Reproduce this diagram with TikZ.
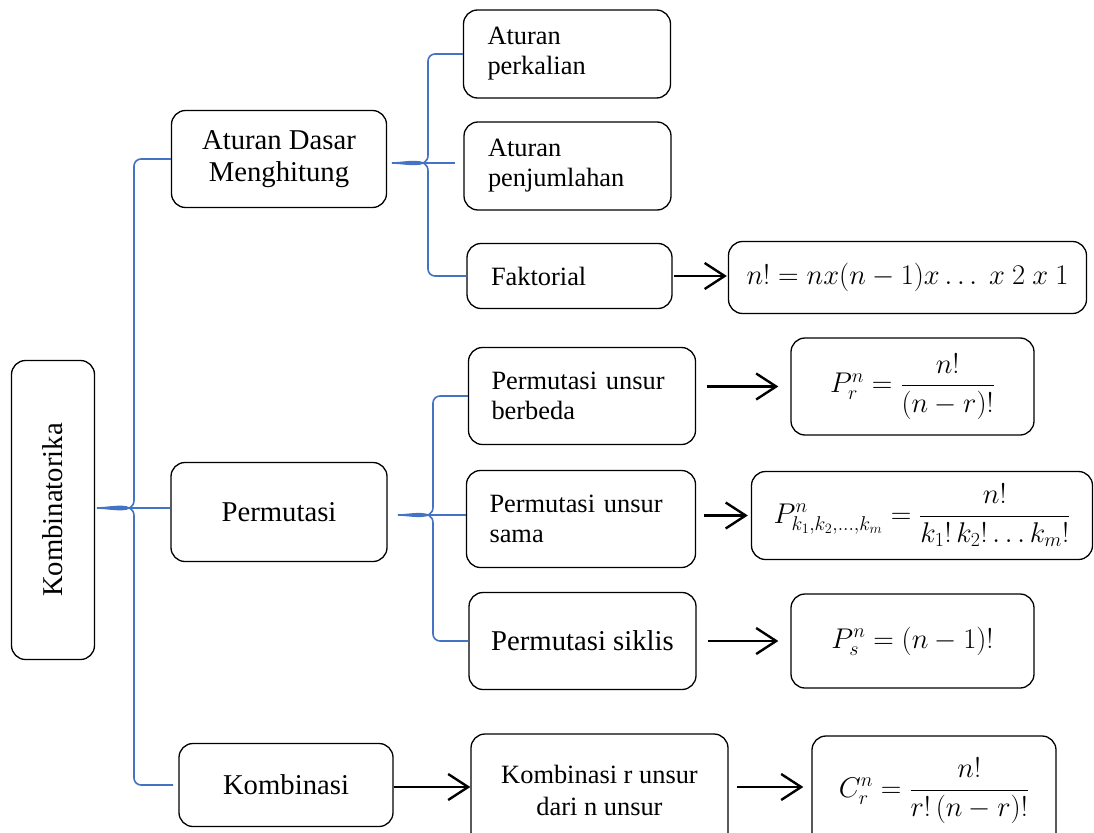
\RequirePackage{fix-cm}
\documentclass[tikz,border=0pt]{standalone}
\usepackage{amsmath}
\usepackage{fontspec}
\setmainfont{Liberation Serif}
\usepackage{tikz}
\usetikzlibrary{arrows.meta}
\usetikzlibrary{positioning}
\definecolor{braceblue}{RGB}{68,114,196}
\newcommand{\bigtext}{\fontsize{28.7}{31.7}\selectfont}
\newcommand{\smalltext}{\fontsize{26.4}{30}\selectfont}
\newcommand{\mathtext}{\fontsize{28.5}{32}\selectfont}
\tikzset{>=latex}
\tikzstyle{box} = [draw, rounded corners=14pt, line width=1.3pt, inner sep=0pt, align=center]
\tikzstyle{lbox} = [box, align=left, inner xsep=24pt, font=\smalltext]
\tikzstyle{brace} = [draw=braceblue, line width=1.6pt]
\tikzstyle{arr} = [-{Straight Barb[length=20pt,width=26pt]}, line width=2.4pt]

\begin{document}
\begin{tikzpicture}[x=1pt, y=-1pt]
\useasboundingbox (0,0) rectangle (1094,832);
% main boxes
\node [box, rotate=90, minimum width=299pt, minimum height=83pt, font=\bigtext] (kombin) at (53,510) {Kombinatorika};
\node [box, minimum width=215pt, minimum height=97pt, font=\bigtext] (dasar) at (279,159) {Aturan Dasar\\Menghitung};
\node [box, minimum width=216pt, minimum height=99pt, font=\bigtext] (perm) at (279,512) {Permutasi};
\node [box, minimum width=214pt, minimum height=83pt, font=\bigtext] (komb) at (286,785) {Kombinasi};
% aturan dasar
\node [lbox, text width=159pt, minimum height=88pt] (kali) at (567,54) {Aturan\\perkalian};
\node [lbox, text width=159pt, minimum height=88pt] (jumlah) at (567.5,166) {Aturan\\penjumlahan};
\node [lbox, text width=157pt, minimum height=65pt] (fakt) at (569.5,276) {Faktorial};
% permutasi
\node [lbox, text width=181pt, minimum height=97pt, inner xsep=23pt] (beda) at (582,396) {Permutasi unsur\\berbeda};
\node [lbox, text width=183pt, minimum height=97pt, inner xsep=23pt] (sama) at (581,519) {Permutasi unsur\\sama};
\node [box, minimum width=227pt, minimum height=97pt, font=\bigtext] (siklis) at (582.5,641) {Permutasi siklis};
% kombinasi
\node [box, minimum width=257pt, minimum height=112pt, font=\smalltext, align=center] (kr) at (599.5,790) {Kombinasi r unsur\\[2pt]dari n unsur};
% rumus
\node [box, minimum width=358pt, minimum height=72pt, font=\mathtext] (rfakt) at (907.5,277.5) {$n! = nx(n-1)x \ldots\ x\ 2\ x\ 1$};
\node [box, minimum width=243pt, minimum height=97pt, font=\mathtext] (rbeda) at (912.5,386.5) {$P_r^n = \dfrac{n!}{(n-r)!}$};
\node [box, minimum width=341pt, minimum height=88pt, font=\mathtext] (rsama) at (922,515.5) {$P_{k_1,k_2,\ldots,k_m}^n = \dfrac{n!}{k_1!\,k_2!\ldots k_m!}$};
\node [box, minimum width=243pt, minimum height=94pt, font=\mathtext] (rsiklis) at (912.5,641) {$P_s^n = (n-1)!$};
\node [box, minimum width=244pt, minimum height=110pt, font=\mathtext] (rkomb) at (934,791) {$C_r^n = \dfrac{n!}{r!\,(n-r)!}$};
% braces
\coordinate (t1) at (97,508);
\coordinate (t2) at (392,163);
\coordinate (t3) at (398,515);
\coordinate (e1) at (173,785);
\coordinate (e2) at (455,163);
\draw [brace] (dasar.west) -- (141,159) to[out=180,in=90] (134,166) -- (134,500) to[out=-90,in=0] (t1) to[out=0,in=90] (134,516) -- (134,778) to[out=-90,in=180] (141,785) -- (e1);
\draw [brace] (t1) -- (t1 -| perm.west);
\draw [brace] (kali.west) -- (435,54) to[out=180,in=90] (428,61) -- (428,155) to[out=-90,in=0] (t2) to[out=0,in=90] (428,171) -- (428,269) to[out=-90,in=180] (435,276) -- (fakt.west);
\draw [brace] (t2) -- (e2);
\draw [brace] (beda.west) -- (440,396) to[out=180,in=90] (433,403) -- (433,507) to[out=-90,in=0] (t3) to[out=0,in=90] (433,523) -- (433,634) to[out=-90,in=180] (440,641) -- (siklis.west);
\draw [brace] (t3) -- (t3 -| sama.west);
% arrows
\draw [arr, shorten <=1pt, shorten >=1pt] (fakt.east) -- (fakt.east -| rfakt.west);
\draw [arr, shorten <=11pt, shorten >=12pt] (beda.east |- rbeda.west) -- (rbeda.west);
\draw [arr, shorten <=8pt, shorten >=3pt] (sama.east |- rsama.west) -- (rsama.west);
\draw [arr, shorten <=11pt, shorten >=12pt] (siklis.east) -- (siklis.east -| rsiklis.west);
\draw [arr] (komb.east |- 0,787) -- (kr.west |- 0,787);
\draw [arr, shorten <=8pt, shorten >=8pt] (kr.east |- 0,787) -- (rkomb.west |- 0,787);
\end{tikzpicture}
\end{document}
